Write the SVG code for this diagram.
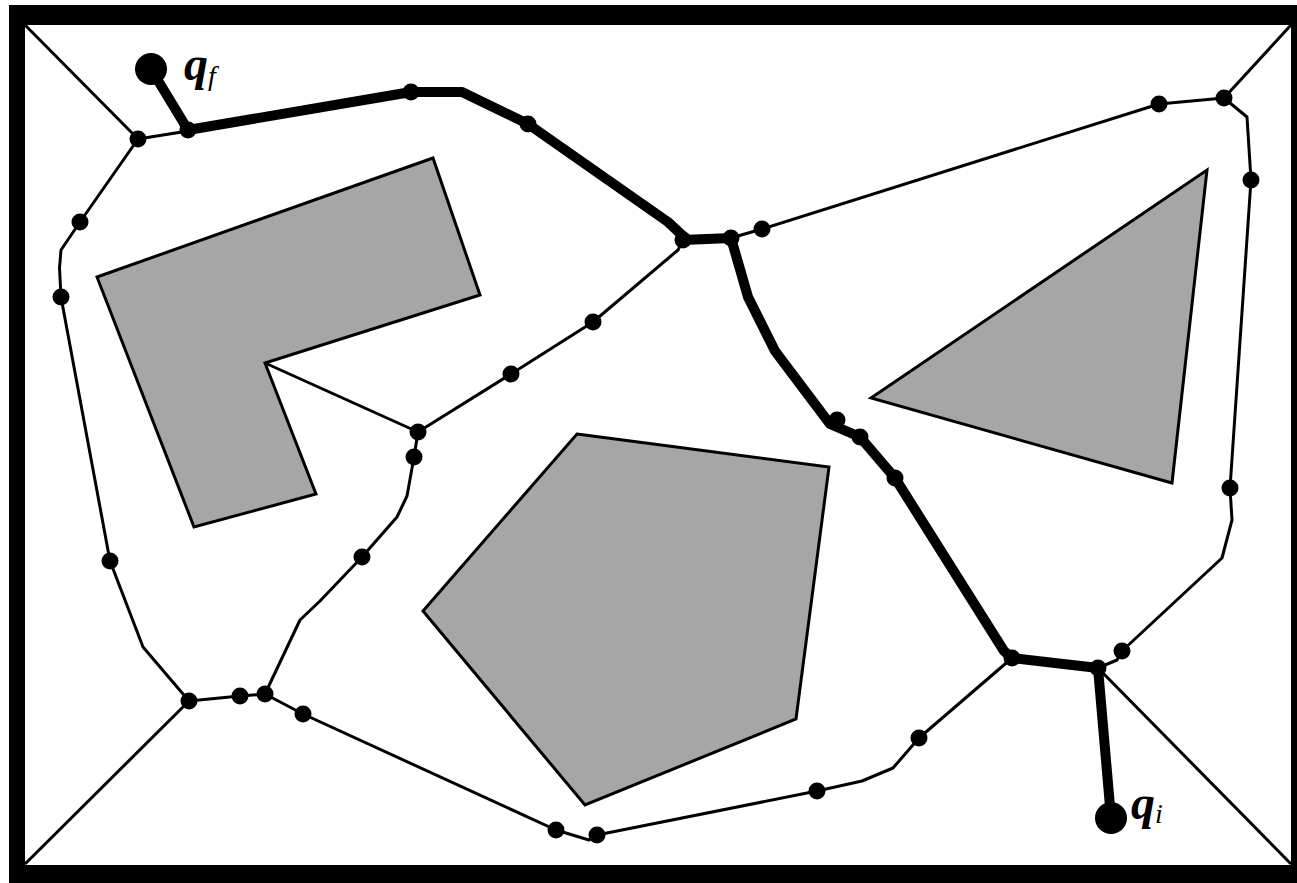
<svg xmlns="http://www.w3.org/2000/svg" width="1297" height="883" viewBox="0 0 1297 883">
  <style>
    .obstacle { fill: #a6a6a6; stroke: #000; stroke-width: 3; stroke-linejoin: miter; }
    .edge { fill: none; stroke: #000; stroke-width: 3; stroke-linejoin: round; }
    .path { fill: none; stroke: #000; stroke-width: 10; stroke-linejoin: round; stroke-linecap: round; }
    .node { fill: #000; }
    .label { font-family: "Liberation Serif", "Times New Roman", serif; fill: #000; }
  </style>

  <!-- workspace frame -->
  <g id="frame">
    <rect x="9" y="5" width="1288" height="878" fill="#000"/>
    <rect x="25" y="25" width="1266" height="840" fill="#fff"/>
  </g>

  <!-- obstacles -->
  <g id="obstacles">
    <polygon id="obstacle-l" class="obstacle" points="97,277 433,158 480,295 265,363 316,494 194,527"/>
    <polygon id="obstacle-triangle" class="obstacle" points="871,398 1207,170 1172,483"/>
    <polygon id="obstacle-pentagon" class="obstacle" points="577,434 829,467 796,719 585,805 423,611"/>
  </g>

  <!-- roadmap edges -->
  <g id="connectors">
    <polyline class="edge" points="25,25 138,139"/>
    <polyline class="edge" points="138,139 188,131"/>
    <polyline class="edge" points="138,139 80,222 61,250 59.5,268 61,297 110,561 143,647 189,701"/>
    <polyline class="edge" points="25,864 189,701"/>
    <polyline class="edge" points="189,701 240,696 265,694"/>
    <polyline class="edge" points="265,694 303,714 556,830 589,840 597,835 817,791 862,781 893,768 919,738 1012,658"/>
    <polyline class="edge" points="265,694 300,620 320,601 362,557 397,517 407,496 414,457 418,432"/>
    <polyline class="edge" points="418,432 265,363"/>
    <polyline class="edge" points="418,432 511,374 593,322 678,250 683,240"/>
    <polyline class="edge" points="731,238 762,229 1159,104 1224,98"/>
    <polyline class="edge" points="1224,98 1291,25"/>
    <polyline class="edge" points="1224,98 1247,117 1251,180 1230,488 1232,520 1222,558 1122,651 1117,660 1098,668"/>
    <polyline class="edge" points="1098,668 1291,864"/>

    <!-- solution path from q_i to q_f -->
    <polyline id="solution-path" class="path" points="151,69 188,130 411,92 462,92 528,124 668,222 683,236 683,240 731,238 748,297 775,351 830,424 860,437 895,478 1004,651 1012,658 1098,668 1111,818"/>
  </g>

  <!-- roadmap vertices -->
  <g id="nodes">
    <g id="n1"><circle class="node" cx="138" cy="139" r="8.5"/></g>
    <g id="n2"><circle class="node" cx="188" cy="130" r="8.5"/></g>
    <g id="n3"><circle class="node" cx="80" cy="222" r="8.5"/></g>
    <g id="n4"><circle class="node" cx="61" cy="297" r="8.5"/></g>
    <g id="n5"><circle class="node" cx="110" cy="561" r="8.5"/></g>
    <g id="n6"><circle class="node" cx="189" cy="701" r="8.5"/></g>
    <g id="n7"><circle class="node" cx="240" cy="696" r="8.5"/></g>
    <g id="n8"><circle class="node" cx="265" cy="694" r="8.5"/></g>
    <g id="n9"><circle class="node" cx="303" cy="714" r="8.5"/></g>
    <g id="n10"><circle class="node" cx="556" cy="830" r="8.5"/></g>
    <g id="n11"><circle class="node" cx="597" cy="835" r="8.5"/></g>
    <g id="n12"><circle class="node" cx="817" cy="791" r="8.5"/></g>
    <g id="n13"><circle class="node" cx="919" cy="738" r="8.5"/></g>
    <g id="n14"><circle class="node" cx="1012" cy="658" r="8.5"/></g>
    <g id="n15"><circle class="node" cx="1098" cy="668" r="8.5"/></g>
    <g id="n16"><circle class="node" cx="1122" cy="651" r="8.5"/></g>
    <g id="n17"><circle class="node" cx="1230" cy="488" r="8.5"/></g>
    <g id="n18"><circle class="node" cx="1251" cy="180" r="8.5"/></g>
    <g id="n19"><circle class="node" cx="1224" cy="98" r="8.5"/></g>
    <g id="n20"><circle class="node" cx="1159" cy="104" r="8.5"/></g>
    <g id="n21"><circle class="node" cx="762" cy="229" r="8.5"/></g>
    <g id="n22"><circle class="node" cx="731" cy="238" r="8.5"/></g>
    <g id="n23"><circle class="node" cx="683" cy="240" r="8.5"/></g>
    <g id="n24"><circle class="node" cx="528" cy="124" r="8.5"/></g>
    <g id="n25"><circle class="node" cx="411" cy="92" r="8.5"/></g>
    <g id="n26"><circle class="node" cx="593" cy="322" r="8.5"/></g>
    <g id="n27"><circle class="node" cx="511" cy="374" r="8.5"/></g>
    <g id="n28"><circle class="node" cx="418" cy="432" r="8.5"/></g>
    <g id="n29"><circle class="node" cx="414" cy="457" r="8.5"/></g>
    <g id="n30"><circle class="node" cx="362" cy="557" r="8.5"/></g>
    <g id="n31"><circle class="node" cx="837" cy="420" r="8.5"/></g>
    <g id="n32"><circle class="node" cx="860" cy="437" r="8.5"/></g>
    <g id="n33"><circle class="node" cx="895" cy="478" r="8.5"/></g>

    <!-- goal configuration -->
    <g id="q-f">
      <circle class="node" cx="151" cy="69" r="16"/>
      <text class="label" x="184" y="80" font-size="48" font-weight="bold" font-style="italic">q<tspan font-size="28" font-weight="normal" dy="5">f</tspan></text>
    </g>
    <!-- start configuration -->
    <g id="q-i">
      <circle class="node" cx="1111" cy="818" r="16"/>
      <text class="label" x="1131" y="819" font-size="48" font-weight="bold" font-style="italic">q<tspan font-size="28" font-weight="normal" dy="4">i</tspan></text>
    </g>
  </g>
</svg>
